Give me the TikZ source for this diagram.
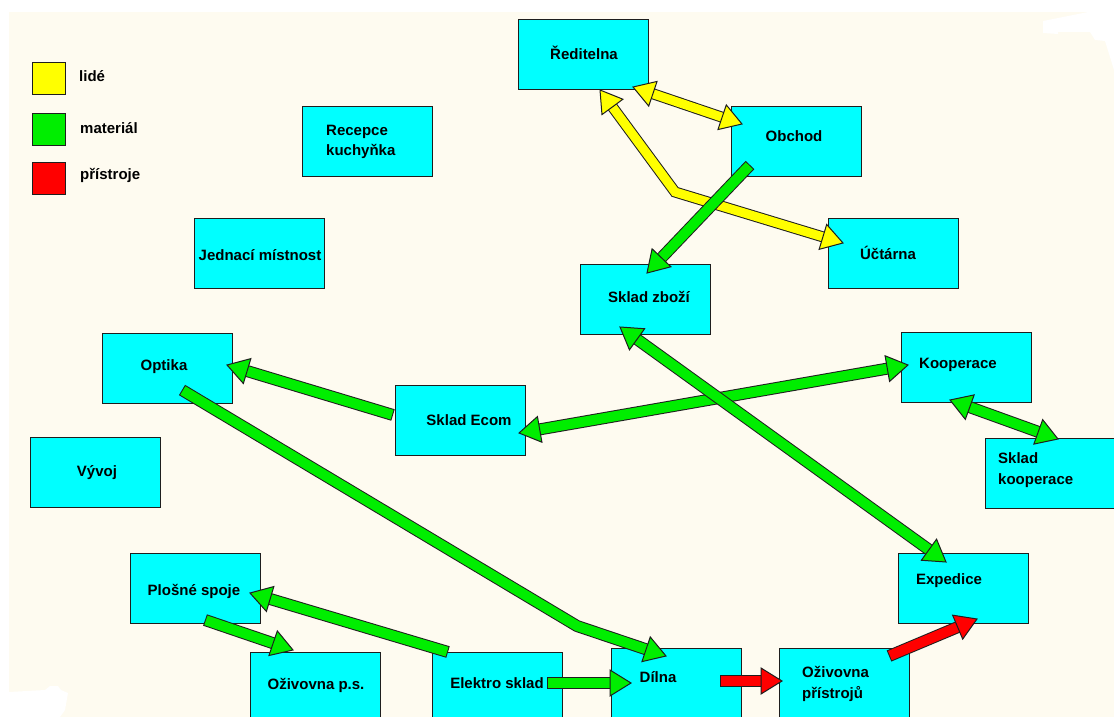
\documentclass[tikz,border=0pt]{standalone}
\usepackage{fontspec}
\setmainfont{Liberation Sans}
\usetikzlibrary{calc}
\definecolor{cream}{RGB}{254,251,240}
\definecolor{boxc}{RGB}{0,255,255}
\definecolor{grn}{RGB}{0,238,0}
\definecolor{ylw}{RGB}{255,255,0}
\definecolor{rd}{RGB}{255,0,0}
\definecolor{edge}{RGB}{30,30,30}
\newcommand\lbl{\bfseries\fontsize{15}{20.5}\selectfont}
\tikzset{
  room/.style={draw=edge, fill=boxc, line width=1.1pt, minimum width=130pt, minimum height=70pt, inner sep=0pt, anchor=north west},
  txt/.style={font=\lbl, inner sep=0pt, align=left},
  legsq/.style={draw=edge, fill=#1, line width=1.1pt, minimum width=33pt, minimum height=32pt, inner sep=0pt, anchor=north west},
  outl/.style={draw=edge, line width=12pt, line join=miter},
  inl/.style={draw=#1, line width=10pt, line join=miter},
  hd/.style={fill=#1, draw=edge, line width=1pt, line join=miter},
}
\newcommand\hed[3]{\filldraw[hd=#1] (#3) -- ($(#3)!21pt!(#2)!13pt!90:(#3)$) -- ($(#3)!21pt!(#2)!13pt!-90:(#3)$) -- cycle;}
\begin{document}
\begin{tikzpicture}[x=1pt,y=-1pt]
\useasboundingbox (0,0) rectangle (1114,717);
\fill[white] (0,0) rectangle (1114,717);
\fill[cream] (9,12) rectangle (1114,717);
\fill[white] (1043,21) -- (1088,12) -- (1114,12) -- (1114,70) -- (1105,41) -- (1095,40) -- (1090,32) -- (1058,32) -- (1058,34) -- (1043,33) -- cycle;
\fill[white] (9,692) -- (45,690) -- (50,686) -- (58,686) -- (61,690) -- (68,693) -- (65,710) -- (60,717) -- (9,717) -- cycle;
\begin{scope}
\clip (0,0) rectangle (1114,717);
% legend
\node[legsq=ylw] (lgy) at (32,62) {};
\node[legsq=grn] (lgg) at (32,113) {};
\node[legsq=rd] (lgr) at (32,162) {};
\node[txt, anchor=west] (lgyt) at (79,76) {lidé};
\node[txt, anchor=west] (lggt) at (80,128) {materiál};
\node[txt, anchor=west] (lgrt) at (80,175) {přístroje};
% rooms
\node[room] (red) at (518,19) {};
\node[room] (obch) at (731,106) {};
\node[room] (uct) at (828,218) {};
\node[room] (szb) at (580,264) {};
\node[room] (rec) at (302,106) {};
\node[room] (jed) at (194,218) {};
\node[room] (opt) at (102,333) {};
\node[room] (ecom) at (395,385) {};
\node[room] (vyv) at (30,437) {};
\node[room] (plo) at (130,553) {};
\node[room] (ozps) at (250,652) {};
\node[room] (elek) at (432,652) {};
\node[room] (diln) at (611,648) {};
\node[room] (ozpr) at (779,648) {};
\node[room] (exp) at (898,553) {};
\node[room] (koop) at (901,332) {};
\node[room] (skoop) at (985,438) {};
% texts
\node[txt] (redt) at (584,53) {Ředitelna};
\node[txt] (obcht) at (794,136) {Obchod};
\node[txt] (uctt) at (888,253) {Účtárna};
\node[txt] (szbt) at (649,297) {Sklad zboží};
\node[txt, anchor=west] (rect) at (326,142) {Recepce\\kuchyňka};
\node[txt] (jedt) at (260,255) {Jednací místnost};
\node[txt] (optt) at (164,367) {Optika};
\node[txt] (ecomt) at (469,420) {Sklad Ecom};
\node[txt] (vyvt) at (97,473) {Vývoj};
\node[txt] (plot) at (194,591) {Plošné spoje};
\node[txt] (ozpst) at (316,685) {Oživovna p.s.};
\node[txt] (elekt) at (497,683) {Elektro sklad};
\node[txt] (dilnt) at (658,677) {Dílna};
\node[txt, anchor=west] (ozprt) at (802,684) {Oživovna\\přístrojů};
\node[txt] (expt) at (949,581) {Expedice};
\node[txt] (koopt) at (958,365) {Kooperace};
\node[txt, anchor=west] (skoopt) at (998,470) {Sklad\\kooperace};
% arrow coordinates
\coordinate (y1a) at (633,87);  \coordinate (y1b) at (742,124);
\coordinate (y2a) at (600,90);  \coordinate (y2m) at (675,192); \coordinate (y2b) at (843,243);
\coordinate (g1a) at (750,165); \coordinate (g1b) at (647,273);
\coordinate (g2a) at (519,433); \coordinate (g2b) at (908,365);
\coordinate (g3a) at (620,327); \coordinate (g3b) at (946,562);
\coordinate (g4a) at (950,400); \coordinate (g4b) at (1058,439);
\coordinate (g5a) at (393,415); \coordinate (g5b) at (227,365);
\coordinate (g6a) at (182,390); \coordinate (g6m) at (577,626); \coordinate (g6b) at (666,656);
\coordinate (g7a) at (448,652); \coordinate (g7b) at (250,593);
\coordinate (g8a) at (205,620); \coordinate (g8b) at (293,650);
\coordinate (g9a) at (547,683); \coordinate (g9b) at (631,683);
\coordinate (r1a) at (720,681); \coordinate (r1b) at (782,681);
\coordinate (r2a) at (889,656); \coordinate (r2b) at (977,619);
% yellow Reditelna <-> Obchod
\draw[outl, line width=11pt, shorten <=17pt, shorten >=17pt] (y1a) -- (y1b);
\draw[inl=ylw, line width=9pt, shorten <=17pt, shorten >=17pt] (y1a) -- (y1b);
\hed{ylw}{y1b}{y1a} \hed{ylw}{y1a}{y1b}
% yellow Reditelna <-> Uctarna
\draw[outl, line width=11pt, shorten <=17pt, shorten >=17pt] (y2a) -- (y2m) -- (y2b);
\draw[inl=ylw, line width=9pt, shorten <=17pt, shorten >=17pt] (y2a) -- (y2m) -- (y2b);
\hed{ylw}{y2m}{y2a} \hed{ylw}{y2m}{y2b}
% green Obchod -> Sklad zbozi
\draw[outl, shorten >=17pt] (g1a) -- (g1b);
\draw[inl=grn, shorten <=1pt, shorten >=17pt] (g1a) -- (g1b);
\hed{grn}{g1a}{g1b}
% green Sklad Ecom <-> Kooperace
\draw[outl, shorten <=17pt, shorten >=17pt] (g2a) -- (g2b);
\draw[inl=grn, shorten <=17pt, shorten >=17pt] (g2a) -- (g2b);
\hed{grn}{g2b}{g2a} \hed{grn}{g2a}{g2b}
% green Sklad zbozi <-> Expedice
\draw[outl, shorten <=17pt, shorten >=17pt] (g3a) -- (g3b);
\draw[inl=grn, shorten <=17pt, shorten >=17pt] (g3a) -- (g3b);
\hed{grn}{g3b}{g3a} \hed{grn}{g3a}{g3b}
% green Kooperace <-> Sklad kooperace
\draw[outl, shorten <=17pt, shorten >=17pt] (g4a) -- (g4b);
\draw[inl=grn, shorten <=17pt, shorten >=17pt] (g4a) -- (g4b);
\hed{grn}{g4b}{g4a} \hed{grn}{g4a}{g4b}
% green Sklad Ecom -> Optika
\draw[outl, shorten >=17pt] (g5a) -- (g5b);
\draw[inl=grn, shorten <=1pt, shorten >=17pt] (g5a) -- (g5b);
\hed{grn}{g5a}{g5b}
% green Optika -> Dilna
\draw[outl, line join=round, shorten >=17pt] (g6a) -- (g6m) -- (g6b);
\draw[inl=grn, line join=round, shorten <=1pt, shorten >=17pt] (g6a) -- (g6m) -- (g6b);
\hed{grn}{g6m}{g6b}
% green Elektro sklad -> Plosne spoje
\draw[outl, shorten >=17pt] (g7a) -- (g7b);
\draw[inl=grn, shorten <=1pt, shorten >=17pt] (g7a) -- (g7b);
\hed{grn}{g7a}{g7b}
% green Plosne spoje -> Ozivovna p.s.
\draw[outl, shorten >=17pt] (g8a) -- (g8b);
\draw[inl=grn, shorten <=1pt, shorten >=17pt] (g8a) -- (g8b);
\hed{grn}{g8a}{g8b}
% green Elektro sklad -> Dilna
\draw[outl, shorten >=17pt] (g9a) -- (g9b);
\draw[inl=grn, shorten <=1pt, shorten >=17pt] (g9a) -- (g9b);
\hed{grn}{g9a}{g9b}
% red Dilna -> Ozivovna pristroju
\draw[outl, shorten >=17pt] (r1a) -- (r1b);
\draw[inl=rd, shorten <=1pt, shorten >=17pt] (r1a) -- (r1b);
\hed{rd}{r1a}{r1b}
% red Ozivovna pristroju -> Expedice
\draw[outl, shorten >=17pt] (r2a) -- (r2b);
\draw[inl=rd, shorten <=1pt, shorten >=17pt] (r2a) -- (r2b);
\hed{rd}{r2a}{r2b}
\end{scope}
\end{tikzpicture}
\end{document}
